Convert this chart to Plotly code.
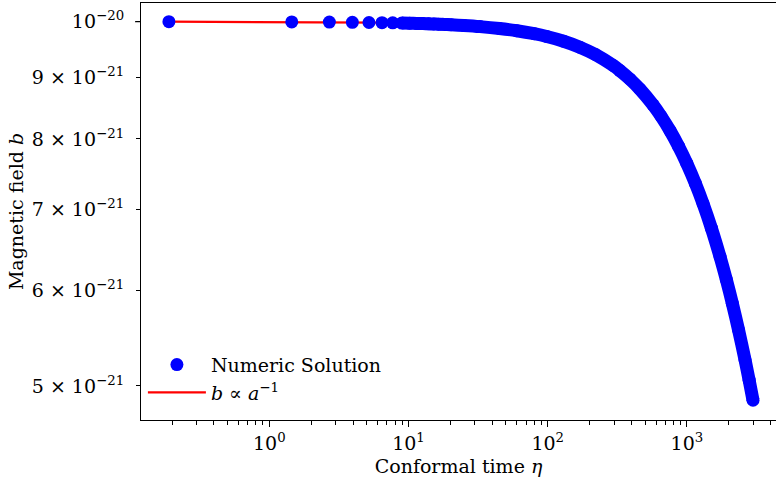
import plotly.graph_objects as go

# Conformal time samples
eta = [0.19, 1.45, 2.7, 3.95, 5.2, 6.45, 7.7, 8.95, 10.2, 11.45, 12.7, 13.95, 15.2,
       16.45, 17.7, 18.95, 20.2, 25, 32.6, 45, 60, 80, 98.4, 130, 170, 220, 295, 330,
       390, 460, 570, 650, 756, 870, 997, 1150, 1306, 1500, 1730, 1920, 2120, 2350,
       2614, 2800, 2985]
# Magnetic field in units of 1e-21
b_e21 = [9.9995, 9.9958, 9.9922, 9.9886, 9.9850, 9.9814, 9.9778, 9.9743, 9.9707,
         9.9671, 9.9635, 9.9599, 9.9564, 9.9528, 9.9492, 9.9456, 9.9421, 9.9284,
         9.9067, 9.8716, 9.8293, 9.7734, 9.7223, 9.6355, 9.5273, 9.3946, 9.2005,
         9.1119, 8.9634, 8.7936, 8.5373, 8.3576, 8.1280, 7.8913, 7.6394, 7.3515,
         7.0742, 6.7503, 6.3941, 6.1205, 5.8509, 5.5620, 5.2558, 5.0548, 4.866]

y_tickvals = [5e-21, 6e-21, 7e-21, 8e-21, 9e-21, 1e-20]
y_ticktext = ["5 × 10<sup>−21</sup>", "6 × 10<sup>−21</sup>", "7 × 10<sup>−21</sup>",
              "8 × 10<sup>−21</sup>", "9 × 10<sup>−21</sup>", "10<sup>−20</sup>"]
x_tickvals = [1, 10, 100, 1000]
x_ticktext = ["10<sup>0</sup>", "10<sup>1</sup>", "10<sup>2</sup>", "10<sup>3</sup>"]
x_minor = [m * 10 ** p for p in range(-1, 4) for m in range(2, 10)]

b = [v * 1e-21 for v in b_e21]
FONT = "DejaVu Serif"
FS = 19

fig = go.Figure()
# analytic b ∝ a^-1 (drawn underneath)
fig.add_trace(go.Scatter(x=eta, y=b, mode="lines", line=dict(color="red", width=2.2),
                         name="<i>b</i> ∝ <i>a</i><sup>−1</sup>", legendrank=2))
# dense band of numeric points
fig.add_trace(go.Scatter(x=eta[7:], y=b[7:], mode="lines",
                         line=dict(color="blue", width=13, shape="spline", smoothing=0.8),
                         showlegend=False, hoverinfo="skip"))
fig.add_trace(go.Scatter(x=eta, y=b, mode="markers", marker=dict(color="blue", size=13),
                         name="Numeric Solution", legendrank=1))

fig.update_layout(
    width=776, height=485,
    margin=dict(l=141, r=0, t=3, b=65),
    paper_bgcolor="white", plot_bgcolor="white",
    font=dict(family=FONT, size=FS, color="black"),
    showlegend=True,
    legend=dict(x=0.003, y=0.178, xanchor="left", yanchor="top", bgcolor="rgba(0,0,0,0)",
                font=dict(family=FONT, size=FS), itemwidth=58),
    xaxis=dict(type="log", range=[-0.9217, 3.640], showgrid=False, zeroline=False,
               automargin=False,
               showline=True, linecolor="black", linewidth=1.2, mirror=True,
               ticks="outside", ticklen=6, tickwidth=1.1, tickcolor="black",
               tickvals=x_tickvals, ticktext=x_ticktext,
               minor=dict(tickvals=x_minor, ticks="outside", ticklen=3.5, tickwidth=0.9, tickcolor="black"),
               title=dict(text="Conformal time <i>η</i>", standoff=6, font=dict(family=FONT, size=FS))),
    yaxis=dict(type="log", range=[-20.32917, -19.98455], showgrid=False, zeroline=False,
               automargin=False,
               showline=True, linecolor="black", linewidth=1.2, mirror=False,
               ticks="outside", ticklen=4, tickwidth=1.0, tickcolor="black",
               tickvals=y_tickvals, ticktext=y_ticktext, ticklabelstandoff=8,
               title=dict(text="Magnetic field <i>b</i>", standoff=3, font=dict(family=FONT, size=FS))),
)
fig.add_shape(type="line", xref="x domain", yref="y", x0=-6 / 635, x1=0, y0=1e-20, y1=1e-20,
              line=dict(color="black", width=1.1))
fig.write_html("out.html", config={"displayModeBar": False},
               post_script="document.body.style.margin='0';document.body.style.padding='0';")
